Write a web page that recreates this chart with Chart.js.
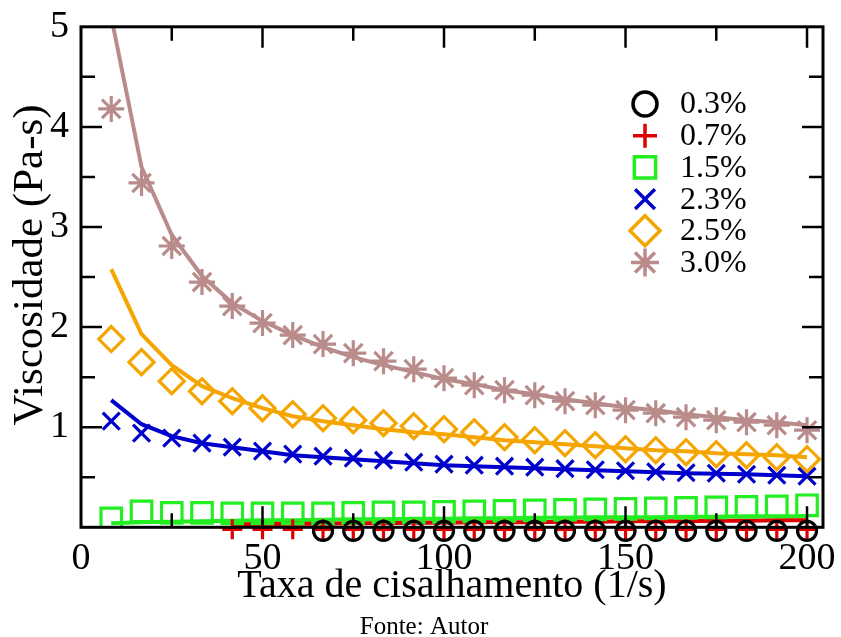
<!DOCTYPE html>
<html>
<head>
<meta charset="utf-8">
<script src="https://cdn.jsdelivr.net/npm/chart.js@4.4.0/dist/chart.umd.min.js"></script>
<style>
  html, body { margin: 0; padding: 0; background: #fff; }
  #wrap { width: 841px; height: 637px; }
</style>
</head>
<body>
<div id="wrap"><canvas id="viscChart" width="841" height="637"></canvas></div>
<script>
// shear rate (1/s), shared by every series
const shearRate = [8.33, 16.67, 25, 33.33, 41.67, 50, 58.33, 66.67, 75, 83.33, 91.67, 100,
  108.33, 116.67, 125, 133.33, 141.67, 150, 158.33, 166.67, 175, 183.33, 191.67, 200];

const seriesLabels = ['0.3%', '0.7%', '1.5%', '2.3%', '2.5%', '3.0%'];

// measured viscosity (Pa-s), null = no point
const meas03 = [null, null, null, null, null, null, null, -0.035, -0.035, -0.035, -0.035, -0.035,
  -0.035, -0.035, -0.035, -0.035, -0.035, -0.035, -0.035, -0.035, -0.035, -0.035, -0.035, -0.035];
const meas07 = [null, null, null, null, -0.02, -0.02, -0.02, -0.02, -0.02, -0.02, -0.02, -0.02,
  -0.02, -0.02, -0.02, -0.02, -0.02, -0.02, -0.02, -0.02, -0.02, -0.02, -0.02, -0.02];
const meas15 = [0.09, 0.16, 0.145, 0.145, 0.14, 0.14, 0.14, 0.14, 0.145, 0.15, 0.15, 0.155,
  0.16, 0.165, 0.17, 0.175, 0.18, 0.185, 0.19, 0.195, 0.2, 0.205, 0.21, 0.22];
const meas23 = [1.06, 0.94, 0.89, 0.84, 0.80, 0.76, 0.73, 0.71, 0.69, 0.67, 0.65, 0.63,
  0.62, 0.61, 0.60, 0.585, 0.575, 0.565, 0.555, 0.545, 0.54, 0.53, 0.52, 0.51];
const meas25 = [1.88, 1.65, 1.46, 1.36, 1.26, 1.19, 1.13, 1.09, 1.07, 1.04, 1.01, 0.98,
  0.95, 0.90, 0.87, 0.84, 0.82, 0.78, 0.77, 0.75, 0.73, 0.72, 0.70, 0.68];
const meas30 = [4.18, 3.44, 2.81, 2.45, 2.21, 2.04, 1.92, 1.83, 1.74, 1.66, 1.58, 1.49,
  1.42, 1.37, 1.32, 1.26, 1.22, 1.17, 1.14, 1.10, 1.07, 1.05, 1.02, 0.97];

// model fit curves
const fit07 = [null, null, null, null, 0.03, 0.03, 0.035, 0.035, 0.04, 0.04, 0.045, 0.045,
  0.05, 0.05, 0.05, 0.055, 0.055, 0.06, 0.06, 0.06, 0.065, 0.065, 0.07, 0.07];
const fit15 = [0.04, 0.05, 0.055, 0.06, 0.065, 0.07, 0.07, 0.075, 0.08, 0.08, 0.085, 0.085,
  0.09, 0.09, 0.095, 0.095, 0.1, 0.1, 0.1, 0.105, 0.105, 0.11, 0.11, 0.11];
const fit23 = [1.27, 1.03, 0.91, 0.84, 0.80, 0.76, 0.72, 0.70, 0.68, 0.66, 0.64, 0.62,
  0.61, 0.60, 0.59, 0.58, 0.57, 0.56, 0.55, 0.54, 0.535, 0.53, 0.52, 0.51];
const fit25 = [2.58, 1.93, 1.62, 1.41, 1.29, 1.19, 1.11, 1.06, 1.02, 0.98, 0.95, 0.93,
  0.90, 0.87, 0.85, 0.83, 0.81, 0.79, 0.77, 0.76, 0.74, 0.73, 0.72, 0.70];
const fit30 = [5.1, 3.60, 2.92, 2.51, 2.24, 2.06, 1.92, 1.80, 1.70, 1.62, 1.55, 1.48,
  1.43, 1.37, 1.33, 1.28, 1.24, 1.20, 1.17, 1.13, 1.10, 1.07, 1.05, 1.02];

const xMajor = [0, 50, 100, 150, 200];
const xMinor = [25, 75, 125, 175];
const yMajor = [1, 2, 3, 4];
const yMinor = [0.5, 1.5, 2.5, 3.5, 4.5];

const colors = ['#000000', '#e00000', '#22ee22', '#0000cc', '#f5a500', '#b98b8b'];
const styles = ['circle', 'cross', 'rect', 'crossRot', 'rectRot', 'star'];
const radii = [9.5, 10, 14.5, 12, 12.5, 13];
const legendRadii = [12, 12, 15, 14, 15, 14];

const SERIF = '"Liberation Serif", "Times New Roman", serif';

function toXY(arr) {
  return shearRate.map((x, i) => ({ x: x, y: arr[i] })).filter(p => p.y !== null);
}

const measured = [meas03, meas07, meas15, meas23, meas25, meas30];
const fits = [null, fit07, fit15, fit23, fit25, fit30];

const datasets = [];
measured.forEach((arr, k) => {
  datasets.push({
    label: seriesLabels[k],
    data: toXY(arr),
    showLine: false,
    pointStyle: styles[k],
    pointRadius: radii[k],
    pointBorderWidth: 3.2,
    borderColor: colors[k],
    pointBorderColor: colors[k],
    pointBackgroundColor: 'rgba(0,0,0,0)',
    clip: k < 2 ? false : undefined
  });
});
fits.forEach((arr, k) => {
  if (!arr) return;
  datasets.push({
    label: seriesLabels[k] + ' fit',
    data: toXY(arr),
    showLine: true,
    borderColor: colors[k],
    borderWidth: 4,
    pointRadius: 0,
    tension: 0
  });
});

// frame with inward ticks on all four sides
const frameTicks = {
  id: 'frameTicks',
  afterDatasetsDraw(chart) {
    const { ctx, chartArea: a, scales: { x, y } } = chart;
    ctx.save();
    ctx.strokeStyle = '#000';
    ctx.lineWidth = 2.5;
    ctx.beginPath();
    const xt = (v, len) => {
      const px = x.getPixelForValue(v);
      ctx.moveTo(px, a.bottom); ctx.lineTo(px, a.bottom - len);
      ctx.moveTo(px, a.top); ctx.lineTo(px, a.top + len);
    };
    const yt = (v, len) => {
      const py = y.getPixelForValue(v);
      ctx.moveTo(a.left, py); ctx.lineTo(a.left + len, py);
      ctx.moveTo(a.right, py); ctx.lineTo(a.right - len, py);
    };
    xMajor.forEach(v => { if (v > 0) xt(v, 21); });
    xMinor.forEach(v => xt(v, 14));
    yMajor.forEach(v => yt(v, 21));
    yMinor.forEach(v => yt(v, 14));
    ctx.stroke();
    ctx.lineWidth = 3;
    ctx.strokeRect(a.left, a.top, a.right - a.left, a.bottom - a.top);
    ctx.restore();
  }
};

// legend inside the plot, y title and source note
const insideLegend = {
  id: 'insideLegend',
  afterDraw(chart) {
    const ctx = chart.ctx;
    ctx.save();
    seriesLabels.forEach((lab, k) => {
      const cy = 104 + k * 31.7;
      ctx.strokeStyle = colors[k];
      ctx.fillStyle = 'rgba(0,0,0,0)';
      ctx.lineWidth = 3.5;
      Chart.helpers.drawPoint(ctx, { pointStyle: styles[k], radius: legendRadii[k], rotation: 0, borderWidth: 3.5 }, 645, cy);
      ctx.fillStyle = '#000';
      ctx.font = '32px ' + SERIF;
      ctx.textAlign = 'left';
      ctx.textBaseline = 'middle';
      ctx.fillText(lab, 680, cy + 1);
    });

    ctx.save();
    ctx.translate(31, 265);
    ctx.rotate(-Math.PI / 2);
    ctx.font = '43px ' + SERIF;
    ctx.textAlign = 'center';
    ctx.textBaseline = 'middle';
    ctx.fillStyle = '#000';
    ctx.fillText('Viscosidade (Pa-s)', 0, 0);
    ctx.restore();

    ctx.font = '25px ' + SERIF;
    ctx.textAlign = 'center';
    ctx.textBaseline = 'alphabetic';
    ctx.fillStyle = '#000';
    ctx.fillText('Fonte: Autor', 424, 634);
    ctx.restore();
  }
};

new Chart(document.getElementById('viscChart'), {
  type: 'scatter',
  data: { datasets: datasets },
  options: {
    responsive: false,
    devicePixelRatio: 1,
    animation: false,
    events: [],
    layout: { padding: { left: 0, right: 18, top: 22, bottom: 30 } },
    plugins: { legend: { display: false }, tooltip: { enabled: false } },
    scales: {
      x: {
        type: 'linear',
        min: 0,
        max: 204.4,
        grid: { display: false },
        border: { display: false },
        ticks: {
          stepSize: 50,
          includeBounds: false,
          padding: 1,
          color: '#000',
          font: { family: SERIF, size: 38 }
        },
        title: {
          display: true,
          text: 'Taxa de cisalhamento (1/s)',
          color: '#000',
          font: { family: SERIF, size: 40, lineHeight: 1 },
          padding: { top: 0, bottom: 1 }
        },
        afterFit(scale) { scale.height = 79.7; }
      },
      y: {
        type: 'linear',
        min: 0,
        max: 5,
        grid: { display: false },
        border: { display: false },
        ticks: {
          stepSize: 1,
          padding: 4,
          color: '#000',
          font: { family: SERIF, size: 38 },
          callback: v => (v === 0 ? '' : v)
        },
        afterFit(scale) { scale.width = 81; }
      }
    }
  },
  plugins: [frameTicks, insideLegend]
});
</script>
</body>
</html>
